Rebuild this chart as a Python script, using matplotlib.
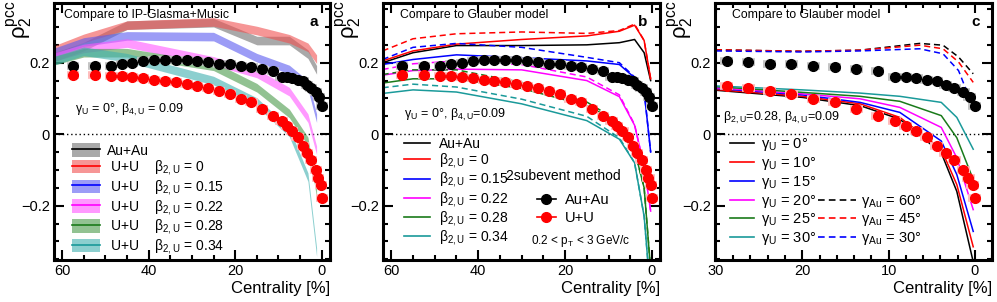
import matplotlib
matplotlib.use("Agg")
import matplotlib.pyplot as plt
from matplotlib.lines import Line2D
from matplotlib.patches import Patch
from matplotlib.ticker import MultipleLocator, FuncFormatter

plt.rcParams['font.family'] = ['Liberation Sans', 'DejaVu Sans']
plt.rcParams['mathtext.fontset'] = 'custom'
plt.rcParams['mathtext.rm'] = 'Liberation Sans'
plt.rcParams['mathtext.it'] = 'Liberation Sans:italic'
plt.rcParams['mathtext.default'] = 'regular'

# measured rho_2 (pcc) vs centrality [%]
cent_auau = [57.5, 52.5, 48.75, 46.25, 43.75, 41.25, 38.75, 36.25, 33.75, 31.25,
             28.75, 26.25, 23.75, 21.25, 18.75, 16.25, 13.75, 11.25,
             9.3, 8.0, 6.8, 5.6, 4.4, 3.4, 2.4, 1.35, 0.6, 0.05]
rho_auau = [0.190, 0.190, 0.192, 0.197, 0.200, 0.205, 0.207, 0.207, 0.207, 0.207,
            0.205, 0.202, 0.197, 0.197, 0.191, 0.188, 0.182, 0.176,
            0.161, 0.161, 0.158, 0.152, 0.150, 0.138, 0.130, 0.117, 0.103, 0.080]
cent_uu = [57.5, 52.5, 48.75, 46.25, 43.75, 41.25, 38.75, 36.25, 33.75, 31.25,
           28.75, 26.25, 23.75, 21.25, 18.75, 16.25, 13.75, 11.25,
           9.3, 8.0, 6.8, 5.6, 4.4, 3.4, 2.4, 1.35, 0.8, 0.25, 0.05]
rho_uu = [0.167, 0.167, 0.162, 0.162, 0.160, 0.157, 0.152, 0.149, 0.146, 0.141,
          0.136, 0.130, 0.122, 0.113, 0.099, 0.089, 0.070, 0.052,
          0.036, 0.023, 0.009, -0.008, -0.033, -0.052, -0.073, -0.099, -0.122, -0.141, -0.178]

# panel a: IP-Glasma+Music bands
x_glasma = [62, 55, 45, 25, 15, 7.5, 3.2, 1.2]
glasma_auau = [0.215, 0.245, 0.305, 0.312, 0.262, 0.262, 0.224, 0.180]
glasma_b0 = [0.235, 0.268, 0.305, 0.314, 0.290, 0.267, 0.243, 0.210]
glasma_b015 = [0.228, 0.258, 0.275, 0.273, 0.214, 0.181, 0.138, 0.045]
glasma_b022 = [0.215, 0.240, 0.255, 0.205, 0.170, 0.119, 0.045, -0.045]
glasma_b028 = [0.205, 0.228, 0.228, 0.190, 0.130, 0.058, -0.020, -0.165]
glasma_b034 = [0.205, 0.232, 0.214, 0.150, 0.090, 0.005, -0.120, -0.330]
glasma_err = 0.012

# panel b: Glauber, beta_2 scan (solid and dashed)
x_glauber = [62, 55, 45, 30, 15, 7.5, 4, 1.8, 0.3]
glb_auau = [0.200, 0.228, 0.248, 0.248, 0.250, 0.256, 0.265, 0.228, 0.150]
glb_b0 = [0.205, 0.233, 0.252, 0.265, 0.275, 0.288, 0.305, 0.262, 0.155]
glb_b0_dash = [0.233, 0.267, 0.281, 0.286, 0.282, 0.290, 0.308, 0.262, 0.155]
glb_b015 = [0.195, 0.209, 0.222, 0.214, 0.205, 0.195, 0.158, 0.120, -0.050]
glb_b015_dash = [0.209, 0.243, 0.254, 0.243, 0.215, 0.200, 0.160, 0.120, -0.050]
glb_b022 = [0.165, 0.178, 0.182, 0.180, 0.150, 0.105, 0.025, -0.090, -0.215]
glb_b022_dash = [0.181, 0.197, 0.205, 0.195, 0.160, 0.110, 0.027, -0.090, -0.215]
glb_b028 = [0.143, 0.155, 0.155, 0.128, 0.080, 0.033, -0.045, -0.150, -0.380]
glb_b028_dash = [0.167, 0.180, 0.180, 0.145, 0.090, 0.035, -0.045, -0.150, -0.380]
glb_b034 = [0.114, 0.124, 0.118, 0.085, 0.038, -0.014, -0.080, -0.230, -0.450]
glb_b034_dash = [0.130, 0.140, 0.132, 0.098, 0.050, -0.010, -0.080, -0.230, -0.450]

# panel c: Glauber, gamma scan
x_gamma = [30, 20, 13.3, 8.7, 3.9, 2.1, 0.2]
gam_u0 = [0.123, 0.103, 0.080, 0.042, -0.052, -0.160, -0.357]
gam_u10 = [0.125, 0.106, 0.085, 0.047, -0.042, -0.141, -0.315]
gam_u15 = [0.128, 0.110, 0.089, 0.061, -0.019, -0.113, -0.272]
gam_u20 = [0.130, 0.113, 0.099, 0.075, 0.019, -0.066, -0.211]
gam_u25 = [0.133, 0.117, 0.106, 0.092, 0.052, -0.010, -0.127]
gam_u30 = [0.135, 0.124, 0.115, 0.106, 0.089, 0.047, -0.042]
x_gamma_au = [30, 20, 13.3, 6.4, 3.7, 1.9, 0.2]
gam_au60 = [0.236, 0.232, 0.235, 0.254, 0.249, 0.216, 0.169]
gam_au45 = [0.236, 0.232, 0.235, 0.249, 0.239, 0.202, 0.145]
gam_au30 = [0.233, 0.230, 0.233, 0.239, 0.225, 0.178, 0.075]

beta_labels = ['0', '0.15', '0.22', '0.28', '0.34']
gamma_u_labels = ['0', '10', '15', '20', '25', '30']
gamma_au_labels = ['60', '45', '30']

BLACK, RED, BLUE, MAG, GREEN, TEAL = 'black', '#ff0000', '#0000ff', '#ff00ff', '#1a7a1a', '#1a9a9a'
BAND = ['#707070', '#f05050', '#5a5af0', '#ff55ff', '#4a9a4a', '#40b0b0']


def fmt(v, pos):
    s = '%g' % round(v, 3)
    return s.replace('-', '\u2212')


def style_axes(ax, xlim, xmajor, xminor):
    ax.set_xlim(*xlim)
    ax.set_ylim(-0.352, 0.367)
    ax.xaxis.set_major_locator(MultipleLocator(xmajor))
    ax.xaxis.set_minor_locator(MultipleLocator(xminor))
    ax.yaxis.set_major_locator(MultipleLocator(0.2))
    ax.yaxis.set_minor_locator(MultipleLocator(0.05))
    ax.xaxis.set_major_formatter(FuncFormatter(fmt))
    ax.yaxis.set_major_formatter(FuncFormatter(fmt))
    ax.tick_params(which='both', direction='in', top=True, right=True, width=1.5, labelsize=10.5, pad=3)
    ax.tick_params(which='major', length=7)
    ax.tick_params(which='minor', length=3.5)
    for s in ax.spines.values():
        s.set_linewidth(2.2)
    ax.axhline(0, color='k', ls=(0, (1, 2)), lw=1, zorder=1)
    ax.set_xlabel('Centrality [%]', loc='right', fontsize=12, labelpad=2)
    # y title sits at the top, left of the tick labels (ROOT style)
    ax.text(-0.123, 1.012, r'$\rho_2^{pcc}$', transform=ax.transAxes, fontsize=16,
            rotation=90, ha='center', va='top')


def draw_data(ax, half_w):
    # systematic boxes, then the points
    ax.errorbar(cent_auau, rho_auau, xerr=half_w, fmt='none', ecolor='#c4c4c4',
                elinewidth=5.5, capsize=0, zorder=3)
    ax.errorbar(cent_uu, rho_uu, xerr=half_w, fmt='none', ecolor='#ffbdbd',
                elinewidth=5.5, capsize=0, zorder=3)
    ax.plot(cent_auau, rho_auau, 'o', color=BLACK, ms=7, zorder=4)
    ax.plot(cent_uu, rho_uu, 'o', color=RED, ms=7, zorder=4)


fig = plt.figure(figsize=(9.97, 3.02), dpi=100)
ax_a = fig.add_axes([0.054, 0.139, 0.277, 0.851])
ax_b = fig.add_axes([0.3842, 0.139, 0.278, 0.851])
ax_c = fig.add_axes([0.7172, 0.139, 0.278, 0.851])

# ---- panel a ----
ax = ax_a
bands = [glasma_auau, glasma_b0, glasma_b015, glasma_b022, glasma_b028, glasma_b034]
lcols = [BLACK, RED, BLUE, MAG, GREEN, TEAL]
for vals, bc in zip(bands, BAND):
    lo = [v - glasma_err for v in vals]
    hi = [v + glasma_err for v in vals]
    ax.fill_between(x_glasma, lo, hi, color=bc, alpha=0.6, lw=0, zorder=2)
draw_data(ax, 1.4)
style_axes(ax, (61.9, -1.9), 20, 5)
handles = [(Patch(facecolor=bc, alpha=0.6, lw=0), Line2D([], [], color=lc, lw=1.2))
           for bc, lc in zip(BAND, lcols)]
labels = ['Au+Au'] + [' U+U    $\\beta_{2,U}$ = ' + b for b in beta_labels]
ax.legend(handles, labels, loc='lower left', bbox_to_anchor=(0.065, 0.015), frameon=False,
          fontsize=10, handlelength=2.0, handleheight=1.1, labelspacing=0.05,
          handletextpad=0.5, borderaxespad=0, borderpad=0)
ax.text(0.035, 0.975, 'Compare to IP-Glasma+Music', transform=ax.transAxes, fontsize=8.8, va='top')
ax.text(0.955, 0.955, 'a', transform=ax.transAxes, fontsize=11, fontweight='bold', va='top', ha='right')
ax.text(0.075, 0.584, r'$\gamma_U$ = 0°, $\beta_{4,U}$ = 0.09', transform=ax.transAxes,
        fontsize=9, va='center')

# ---- panel b ----
ax = ax_b
solid = [glb_b0, glb_b015, glb_b022, glb_b028, glb_b034]
dashed = [glb_b0_dash, glb_b015_dash, glb_b022_dash, glb_b028_dash, glb_b034_dash]
cols = [RED, BLUE, MAG, GREEN, TEAL]
ax.plot(x_glauber, glb_auau, color=BLACK, lw=1.1, zorder=2)
for s, d, c in zip(solid, dashed, cols):
    ax.plot(x_glauber, s, color=c, lw=1.1, zorder=2)
    ax.plot(x_glauber, d, color=c, lw=1.1, ls=(0, (4, 2.5)), zorder=2)
draw_data(ax, 1.4)
style_axes(ax, (61.9, -1.9), 20, 5)
h1 = [Line2D([], [], color=c, lw=1.2) for c in [BLACK] + cols]
l1 = ['Au+Au'] + ['$\\beta_{2,U}$ = ' + b for b in beta_labels]
leg1 = ax.legend(h1, l1, loc='lower left', bbox_to_anchor=(0.075, 0.05), frameon=False,
                 fontsize=10, handlelength=1.9, labelspacing=0.02, handletextpad=0.6,
                 borderaxespad=0, borderpad=0)
ax.add_artist(leg1)
h2 = [Line2D([], [], color=BLACK, marker='o', ms=7, lw=1.2),
      Line2D([], [], color=RED, marker='o', ms=7, lw=1.2)]
ax.legend(h2, ['Au+Au', 'U+U'], loc='lower left', bbox_to_anchor=(0.555, 0.135), frameon=False,
          fontsize=10.5, handlelength=1.3, labelspacing=0.3, handletextpad=0.6,
          borderaxespad=0, borderpad=0)
ax.text(0.445, 0.325, '2subevent method', transform=ax.transAxes, fontsize=10, va='center')
ax.text(0.535, 0.075, r'0.2 < $p_T$ < 3 GeV/c', transform=ax.transAxes, fontsize=8.5, va='center')
ax.text(0.06, 0.975, 'Compare to Glauber model', transform=ax.transAxes, fontsize=8.8, va='top')
ax.text(0.955, 0.955, 'b', transform=ax.transAxes, fontsize=11, fontweight='bold', va='top', ha='right')
ax.text(0.075, 0.564, r'$\gamma_U$ = 0°, $\beta_{4,U}$=0.09', transform=ax.transAxes,
        fontsize=9, va='center')

# ---- panel c ----
ax = ax_c
gam_u = [gam_u0, gam_u10, gam_u15, gam_u20, gam_u25, gam_u30]
gcols = [BLACK, RED, BLUE, MAG, GREEN, TEAL]
for vals, c in zip(gam_u, gcols):
    ax.plot(x_gamma, vals, color=c, lw=1.1, zorder=2)
for vals, c in zip([gam_au60, gam_au45, gam_au30], [BLACK, RED, BLUE]):
    ax.plot(x_gamma_au, vals, color=c, lw=1.1, ls=(0, (4, 2.5)), zorder=2)
draw_data(ax, 0.75)
style_axes(ax, (30.1, -2.0), 10, 2)
h1 = [Line2D([], [], color=c, lw=1.2) for c in gcols]
l1 = ['$\\gamma_U$ = ' + g + '°' for g in gamma_u_labels]
leg1 = ax.legend(h1, l1, loc='lower left', bbox_to_anchor=(0.055, 0.05), frameon=False,
                 fontsize=10.5, handlelength=1.6, labelspacing=0.12, handletextpad=0.5,
                 borderaxespad=0, borderpad=0)
ax.add_artist(leg1)
h2 = [Line2D([], [], color=c, lw=1.2, ls=(0, (4, 2.5))) for c in [BLACK, RED, BLUE]]
l2 = ['$\\gamma_{Au}$ = ' + g + '°' for g in gamma_au_labels]
ax.legend(h2, l2, loc='lower left', bbox_to_anchor=(0.37, 0.05), frameon=False,
          fontsize=10.5, handlelength=2.6, labelspacing=0.12, handletextpad=0.4,
          borderaxespad=0, borderpad=0)
ax.text(0.06, 0.975, 'Compare to Glauber model', transform=ax.transAxes, fontsize=8.8, va='top')
ax.text(0.955, 0.955, 'c', transform=ax.transAxes, fontsize=11, fontweight='bold', va='top', ha='right')
ax.text(0.03, 0.553, r'$\beta_{2,U}$=0.28, $\beta_{4,U}$=0.09', transform=ax.transAxes,
        fontsize=9, va='center')

fig.savefig('out.png', dpi=100)
